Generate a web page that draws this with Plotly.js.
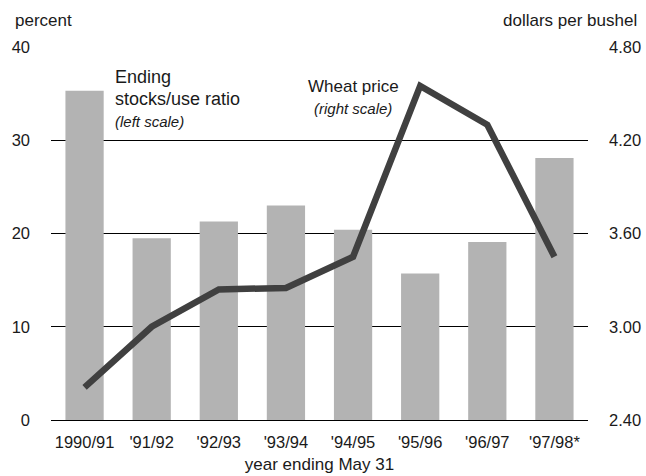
<!DOCTYPE html>
<html><head><meta charset="utf-8">
<script src="https://cdn.plot.ly/plotly-3.0.1.min.js"></script>
<style>html,body{margin:0;padding:0;background:#fff}</style>
</head><body>
<div id="chart" style="width:646px;height:476px"></div>
<script>
const categories = ["1990/91","'91/92","'92/93","'93/94","'94/95","'95/96","'96/97","'97/98*"];
const stocksUseRatio = [35.3, 19.5, 21.3, 23.0, 20.4, 15.7, 19.1, 28.1];
const wheatPrice = [2.61, 3.00, 3.24, 3.25, 3.45, 4.55, 4.30, 3.45];
const leftTicks = [0, 10, 20, 30, 40];
const rightTicks = [2.40, 3.00, 3.60, 4.20, 4.80];
const rightTickText = ["2.40","3.00","3.60","4.20","4.80"];

const FONT = "'Liberation Sans', Arial, sans-serif";
const TXT = "#1a1a1a";

const data = [
  {type:"bar", x:categories, y:stocksUseRatio, marker:{color:"#b3b3b3"}, yaxis:"y", hoverinfo:"none"},
  {type:"scatter", mode:"lines", x:categories, y:wheatPrice, yaxis:"y2",
   line:{color:"#404040", width:6.5}, hoverinfo:"none"}
];

const layout = {
  width:646, height:476,
  margin:{l:51, r:58, t:47, b:56},
  paper_bgcolor:"#fff", plot_bgcolor:"#fff",
  showlegend:false,
  bargap:0.43,
  font:{family:FONT, size:17, color:TXT},
  xaxis:{type:"category", showgrid:false, showline:true, linecolor:"#000", linewidth:1.2,
         ticks:"", ticklabelstandoff:7, tickfont:{size:16.5, family:FONT, color:TXT},
         automargin:false,
         title:{text:"year ending May 31", font:{size:17, family:FONT, color:TXT}, standoff:8}},
  yaxis:{range:[0,40], tickvals:leftTicks, showgrid:true, gridcolor:"#000", gridwidth:1,
         zeroline:false, showline:false, ticks:"", ticklabelstandoff:20, automargin:false,
         tickfont:{size:16.5, family:FONT, color:TXT}},
  yaxis2:{range:[2.40,4.80], overlaying:"y", side:"right", tickvals:rightTicks, ticktext:rightTickText,
          showgrid:false, zeroline:false, showline:false, ticks:"", ticklabelstandoff:20, automargin:false,
          tickfont:{size:16.5, family:FONT, color:TXT}},
  annotations:[
    {xref:"paper", yref:"paper", x:-0.0713, y:1.0, yshift:27, xanchor:"left", yanchor:"middle",
     text:"percent", showarrow:false, font:{size:17, family:FONT, color:TXT}},
    {xref:"paper", yref:"paper", x:1.095, y:1.0, yshift:27, xanchor:"right", yanchor:"middle",
     text:"dollars per bushel", showarrow:false, font:{size:17, family:FONT, color:TXT}},
    {xref:"paper", yref:"paper", x:0.1155, y:0.9196, xanchor:"left", yanchor:"middle",
     text:"Ending", showarrow:false, font:{size:18, family:FONT, color:TXT}},
    {xref:"paper", yref:"paper", x:0.1155, y:0.8606, xanchor:"left", yanchor:"middle",
     text:"stocks/use ratio", showarrow:false, font:{size:18, family:FONT, color:TXT}},
    {xref:"paper", yref:"paper", x:0.1155, y:0.799, xanchor:"left", yanchor:"middle",
     text:"<i>(left scale)</i>", showarrow:false, font:{size:15, family:FONT, color:TXT}},
    {xref:"paper", yref:"paper", x:0.5624, y:0.8954, xanchor:"center", yanchor:"middle",
     text:"Wheat price", showarrow:false, font:{size:17, family:FONT, color:TXT}},
    {xref:"paper", yref:"paper", x:0.563, y:0.8338, xanchor:"center", yanchor:"middle",
     text:"<i>(right scale)</i>", showarrow:false, font:{size:15, family:FONT, color:TXT}}
  ]
};

Plotly.newPlot("chart", data, layout, {staticPlot:true, displayModeBar:false});
</script>
</body></html>
